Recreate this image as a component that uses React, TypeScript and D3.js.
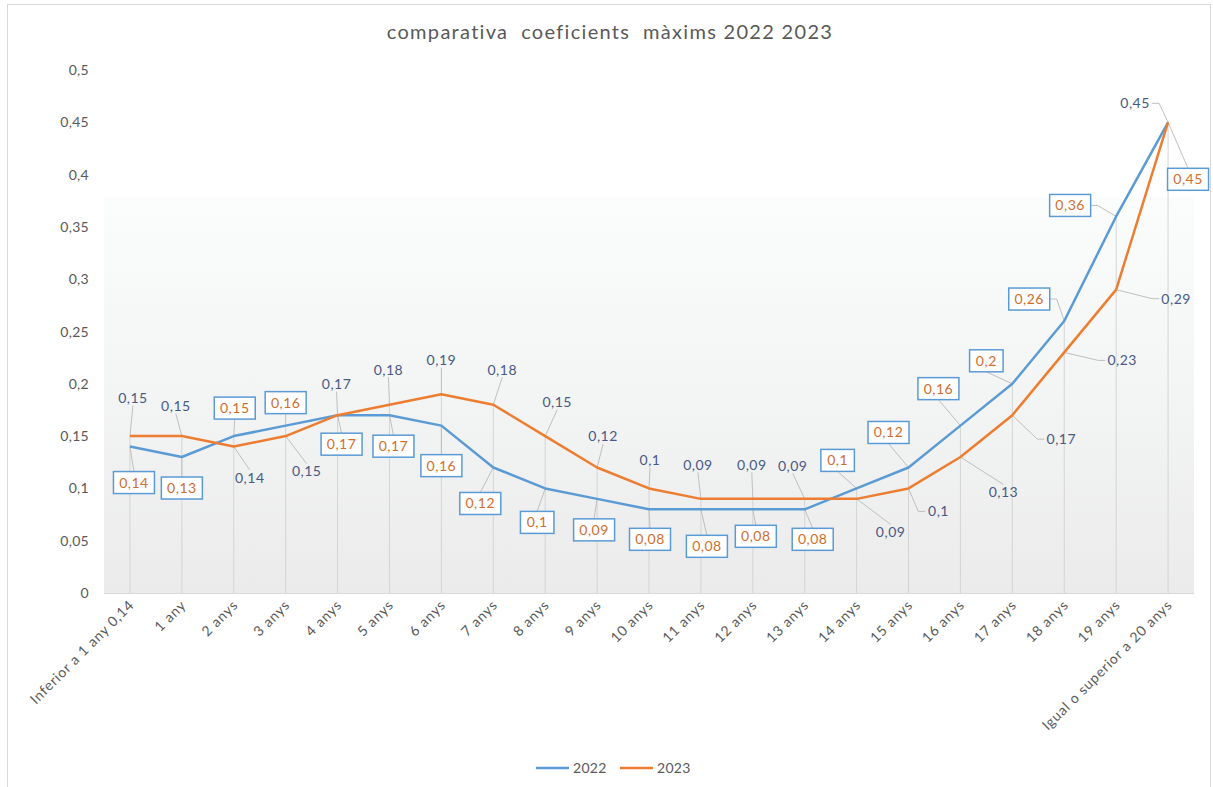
import React from "react";
import * as d3 from "d3";

const categories = [
  "Inferior a 1 any 0,14", "1 any", "2 anys", "3 anys", "4 anys", "5 anys", "6 anys",
  "7 anys", "8 anys", "9 anys", "10 anys", "11 anys", "12 anys", "13 anys", "14 anys",
  "15 anys", "16 anys", "17 anys", "18 anys", "19 anys", "Igual o superior a 20 anys",
];
const values2022 = [0.14, 0.13, 0.15, 0.16, 0.17, 0.17, 0.16, 0.12, 0.10, 0.09, 0.08, 0.08, 0.08, 0.08, 0.10, 0.12, 0.16, 0.20, 0.26, 0.36, 0.45];
const values2023 = [0.15, 0.15, 0.14, 0.15, 0.17, 0.18, 0.19, 0.18, 0.15, 0.12, 0.10, 0.09, 0.09, 0.09, 0.09, 0.10, 0.13, 0.17, 0.23, 0.29, 0.45];
const yTicks = [0, 0.05, 0.1, 0.15, 0.2, 0.25, 0.3, 0.35, 0.4, 0.45, 0.5];
const seriesNames = ["2022", "2023"];
const title = "comparativa  coeficients  màxims 2022 2023";

// label placement offsets (pixels, relative to the point) – layout only
const offs2023: [number, number][] = [
  [3, -38], [-6, -30], [16, 31], [21, 35], [-1, -31], [-1, -35], [0, -34], [9, -35], [12, -34], [6, -31],
  [1, -28], [-3, -34], [-1, -34], [-12, -33], [34, 33], [30, 23], [43, 35], [49, 24], [58, 8], [60, 9], [-33, -19],
];
const offs2022: [number, number][] = [
  [4, 36], [0, 31], [1, -28], [0, -23], [4, 29], [4, 31], [0, 40], [-13, 36], [-8, 34], [-3, 31],
  [1, 30], [6, 37], [3, 27], [8, 30], [-19, -28], [-20, -35], [-22, -37], [-26, -23], [-35, -22], [-46, -11], [20, 57],
];

const W = 1213, H = 787;
const M = { left: 104, right: 1194, top: 70, bottom: 593 };
const FONT = "Lato, 'Open Sans', sans-serif";
const BLUE = "#5B9BD5", ORANGE = "#ED7D31";
const TXT = "#595959", SLATE = "#485A85", BOXTXT = "#CF6E2E", LEADER = "#BFBFBF";

const fmt = (v: number) => String(+v.toFixed(2)).replace(".", ",");

const LS = 14; // data label font size
const LSP = 0.5; // data label letter spacing
function textW(s: string) {
  return s.length * (LS * 0.5 + LSP);
}

function leader(px: number, py: number, cx: number, cy: number, w: number, h: number) {
  const x0 = cx - w / 2, x1 = cx + w / 2, y0 = cy - h / 2, y1 = cy + h / 2;
  const gx = px < x0 ? x0 - px : px > x1 ? px - x1 : 0;
  const gy = py < y0 ? y0 - py : py > y1 ? py - y1 : 0;
  if (Math.hypot(gx, gy) < 5) return null;
  if (gy >= gx) {
    const ay = py < y0 ? y0 : y1;
    return `M${px},${py}L${cx},${ay}`;
  }
  const ax = px < x0 ? x0 : x1;
  const sx = px < x0 ? ax - 7 : ax + 7;
  return `M${px},${py}L${sx},${cy}L${ax},${cy}`;
}

export default function App() {
  const x = d3.scaleBand<number>().domain(d3.range(categories.length)).range([M.left, M.right]).padding(0);
  const cx = (i: number) => (x(i) as number) + x.bandwidth() / 2;
  const y = d3.scaleLinear().domain([0, 0.5]).range([M.bottom, M.top]);
  const line = d3.line<number>().x((_, i) => cx(i)).y((v) => y(v));

  const plain = values2023.map((v, i) => {
    const px = cx(i), py = y(v);
    const lx = px + offs2023[i][0], ly = py + offs2023[i][1];
    const w = textW(fmt(v)) + 4, h = 15;
    return { i, v, px, py, lx, ly, w, h, lead: leader(px, py, lx, ly, w, h) };
  });
  const boxed = values2022.map((v, i) => {
    const px = cx(i), py = y(v);
    const lx = px + offs2022[i][0], ly = py + offs2022[i][1];
    const w = textW(fmt(v)) + 11, h = 22;
    return { i, v, px, py, lx, ly, w, h, lead: leader(px, py, lx, ly, w, h) };
  });

  return (
    <svg width={W} height={H} style={{ display: "block", position: "absolute", left: 0, top: 0 }} fontFamily={FONT}>
      <defs>
        <linearGradient id="bg" x1="0" y1="0" x2="0" y2="1">
          <stop offset="0" stopColor="#fbfdfd" />
          <stop offset="1" stopColor="#ebebeb" />
        </linearGradient>
      </defs>
      <rect x={0} y={0} width={W} height={H} fill="#fff" />
      <rect x={7.5} y={4.5} width={1203} height={H + 10} fill="none" stroke="#d9d9d9" />
      <rect x={M.left} y={y(0.378)} width={M.right - M.left} height={M.bottom - y(0.378)} fill="url(#bg)" />

      <text x={610} y={39} textAnchor="middle" fontSize={20} fill={TXT} style={{ whiteSpace: "pre" }} letterSpacing={1.3}>
        {title}
      </text>

      {yTicks.map((t) => (
        <text key={t} x={89} y={y(t) + 5} textAnchor="end" fontSize={14} fill={TXT} letterSpacing={0.3}>
          {fmt(t)}
        </text>
      ))}

      {/* drop lines */}
      {categories.map((_, i) => (
        <line key={i} x1={cx(i)} x2={cx(i)} y1={y(Math.max(values2022[i], values2023[i]))} y2={M.bottom} stroke="#d4d4d4" strokeWidth={1} />
      ))}
      <line x1={M.left} x2={M.right} y1={M.bottom + 0.5} y2={M.bottom + 0.5} stroke="#d9d9d9" />

      {categories.map((c, i) => (
        <text key={c} transform={`translate(${cx(i) + 5},${M.bottom + 13}) rotate(-45)`} textAnchor="end" fontSize={14} fill={TXT} letterSpacing={0.8}>
          {c}
        </text>
      ))}

      {/* leader lines */}
      {[...plain, ...boxed].map((d, k) => d.lead && <path key={k} d={d.lead} fill="none" stroke={LEADER} strokeWidth={1} />)}

      <path d={line(values2022) || ""} fill="none" stroke={BLUE} strokeWidth={2.5} strokeLinejoin="round" />
      <path d={line(values2023) || ""} fill="none" stroke={ORANGE} strokeWidth={2.5} strokeLinejoin="round" />

      {plain.map((d) => (
        <text key={"p" + d.i} x={d.lx} y={d.ly + 5} textAnchor="middle" fontSize={LS} fill={SLATE} letterSpacing={LSP}>
          {fmt(d.v)}
        </text>
      ))}
      {boxed.map((d) => (
        <g key={"b" + d.i}>
          <rect x={d.lx - d.w / 2} y={d.ly - d.h / 2} width={d.w} height={d.h} fill="#fff" stroke={BLUE} strokeWidth={1.5} />
          <text x={d.lx} y={d.ly + 5} textAnchor="middle" fontSize={LS} fill={BOXTXT} letterSpacing={LSP}>
            {fmt(d.v)}
          </text>
        </g>
      ))}

      {/* legend */}
      {seriesNames.map((s, k) => {
        const lx = 536 + k * 84;
        return (
          <g key={s}>
            <line x1={lx} x2={lx + 33} y1={768} y2={768} stroke={k === 0 ? BLUE : ORANGE} strokeWidth={2.5} />
            <text x={lx + 37} y={773} fontSize={14} fill={TXT} letterSpacing={0.3}>{s}</text>
          </g>
        );
      })}
    </svg>
  );
}
